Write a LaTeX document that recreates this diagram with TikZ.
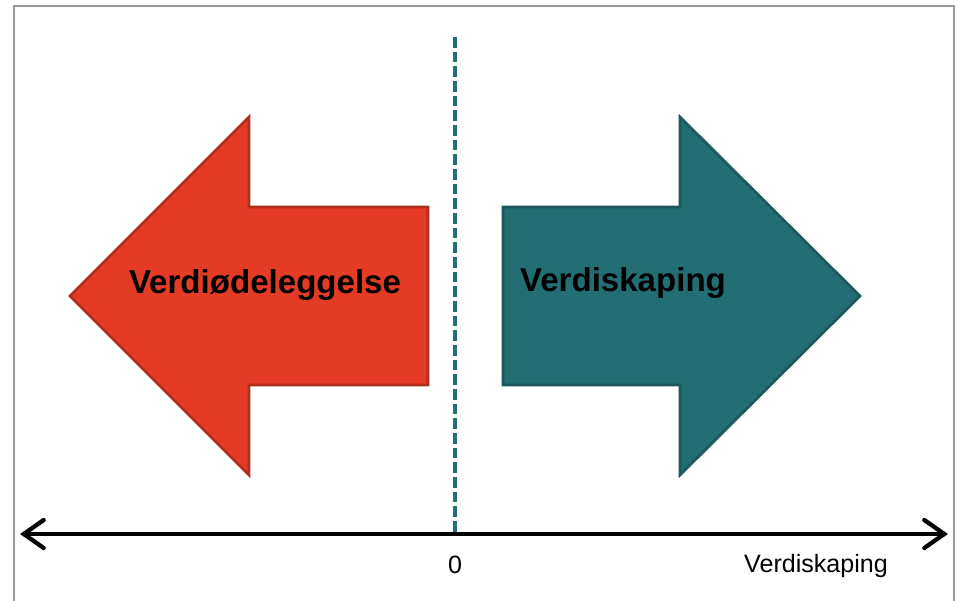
\documentclass[tikz,border=0pt]{standalone}
\usepackage{fontspec}
\setmainfont{Liberation Sans}
\usetikzlibrary{arrows.meta}

\definecolor{lossred}{HTML}{E33B26}
\definecolor{lossedge}{HTML}{B02E1F}
\definecolor{gainteal}{HTML}{236E73}
\definecolor{gainedge}{HTML}{1B575B}
\definecolor{framegray}{HTML}{9A9A9A}

\begin{document}
\begin{tikzpicture}[
  x = 0.75pt,
  y = -0.75pt,
  bigarrow/.style = {
    line width = 2pt,
    line join = miter
  },
  biglabel/.style = {
    font = \fontsize{24.8}{30}\selectfont\bfseries,
    anchor = base,
    inner sep = 0pt
  },
  axislabel/.style = {
    font = \fontsize{18.8}{22}\selectfont,
    anchor = base,
    inner sep = 0pt
  },
  barb/.tip = {
    Straight Barb[length = 15pt, width = 21pt, line cap = round]
  }
]
  \useasboundingbox (0, 0) rectangle (959, 600);
  \draw[framegray, line width = 1.8pt] (14, 610) -- (14, 6) -- (954, 6) -- (954, 610);

  % destruction arrow, pointing left
  \draw[bigarrow, fill = lossred, draw = lossedge]
    (428, 207) -- (249, 207) -- (249, 117) -- (70, 296)
    -- (249, 475) -- (249, 385) -- (428, 385) -- cycle;

  % creation arrow, pointing right
  \draw[bigarrow, fill = gainteal, draw = gainedge]
    (503, 207) -- (680, 207) -- (680, 117) -- (860, 296)
    -- (680, 475) -- (680, 385) -- (503, 385) -- cycle;

  \node[biglabel] (loss) at (265, 293) {Verdiødeleggelse};
  \node[biglabel] (gain) at (623, 291) {Verdiskaping};

  % zero line
  \coordinate (ztop) at (455, 37);
  \coordinate (zbot) at (455, 534);
  \draw[gainteal, line width = 2.8pt, dash pattern = on 8pt off 3pt] (ztop) -- (zbot);

  % value axis
  \coordinate (aleft) at (20, 534);
  \coordinate (aright) at (948, 534);
  \draw[line width = 3.2pt, barb-barb] (aleft) -- (aright);

  \node[axislabel] (zero) at (455, 573) {0};
  \node[axislabel] (axisname) at (816, 572) {Verdiskaping};
\end{tikzpicture}
\end{document}
